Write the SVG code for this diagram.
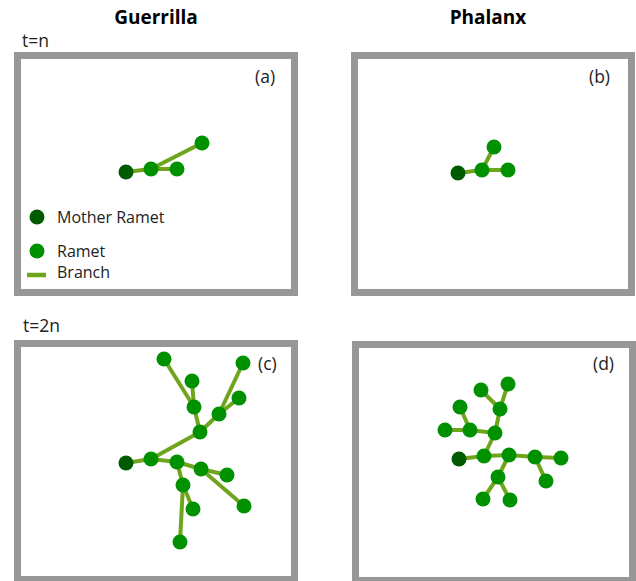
<svg xmlns="http://www.w3.org/2000/svg" width="636" height="581" viewBox="0 0 636 581">
<style>
.frame{fill:#fff;stroke:#979797;stroke-width:7}
.br{stroke:#6ea51c;stroke-width:4;stroke-linecap:butt}
.m{fill:#005a00}
.r{fill:#009100}
.t{font-family:"Open Sans","DejaVu Sans",sans-serif;fill:#222}
.h{font-family:"Open Sans","DejaVu Sans",sans-serif;font-weight:bold;font-size:19px;fill:#000;text-anchor:middle}
.lab{font-size:17.5px}
.leg{font-size:16px}
</style>
<rect width="636" height="581" fill="#fff"/>
<g id="headers">
<text class="h" x="156" y="24">Guerrilla</text>
<text class="h" x="488" y="24">Phalanx</text>
<text class="t lab" x="22" y="47">t=n</text>
<text class="t lab" x="23" y="332">t=2n</text>
</g>
<g id="panel-a">
<rect class="frame" x="17.5" y="55.5" width="277" height="237"/>
<text class="t lab" x="255" y="83">(a)</text>
<g id="conn-a">
<line class="br" x1="126" y1="172" x2="151" y2="169"/>
<line class="br" x1="151" y1="169" x2="177" y2="169"/>
<line class="br" x1="151" y1="169" x2="202" y2="143"/>
</g>
<circle class="m" cx="126" cy="172" r="7.5"/>
<circle class="r" cx="151" cy="169" r="7.5"/>
<circle class="r" cx="177" cy="169" r="7.5"/>
<circle class="r" cx="202" cy="143" r="7.5"/>
</g>
<g id="legend">
<circle class="m" cx="37" cy="217" r="7.5"/>
<text class="t leg" x="57" y="223">Mother Ramet</text>
<circle class="r" cx="37" cy="251" r="7.5"/>
<text class="t leg" x="57" y="257">Ramet</text>
<line class="br" x1="27" y1="275" x2="46" y2="275" style="stroke-width:4.5"/>
<text class="t leg" x="57" y="278">Branch</text>
</g>
<g id="panel-b">
<rect class="frame" x="354.5" y="55.5" width="277" height="237"/>
<text class="t lab" x="589" y="83">(b)</text>
<g id="conn-b">
<line class="br" x1="458" y1="173" x2="482" y2="170"/>
<line class="br" x1="482" y1="170" x2="508" y2="170"/>
<line class="br" x1="482" y1="170" x2="494" y2="147"/>
</g>
<circle class="m" cx="458" cy="173" r="7.5"/>
<circle class="r" cx="482" cy="170" r="7.5"/>
<circle class="r" cx="508" cy="170" r="7.5"/>
<circle class="r" cx="494" cy="147" r="7.5"/>
</g>
<g id="panel-c">
<rect class="frame" x="17.5" y="343.5" width="277" height="236"/>
<text class="t lab" x="258" y="370">(c)</text>
<g id="conn-c">
<line class="br" x1="126" y1="463" x2="151" y2="459"/>
<line class="br" x1="151" y1="459" x2="177" y2="462"/>
<line class="br" x1="177" y1="462" x2="201" y2="469"/>
<line class="br" x1="201" y1="469" x2="227" y2="475"/>
<line class="br" x1="201" y1="469" x2="244" y2="506"/>
<line class="br" x1="177" y1="462" x2="183" y2="485"/>
<line class="br" x1="183" y1="485" x2="193" y2="509"/>
<line class="br" x1="183" y1="485" x2="180" y2="542"/>
<line class="br" x1="151" y1="459" x2="200" y2="432"/>
<line class="br" x1="200" y1="432" x2="219" y2="414"/>
<line class="br" x1="219" y1="414" x2="239" y2="398"/>
<line class="br" x1="219" y1="414" x2="243" y2="363"/>
<line class="br" x1="200" y1="432" x2="194" y2="407"/>
<line class="br" x1="194" y1="407" x2="192" y2="381"/>
<line class="br" x1="194" y1="407" x2="164" y2="359"/>
</g>
<circle class="m" cx="126" cy="463" r="7.5"/>
<circle class="r" cx="151" cy="459" r="7.5"/>
<circle class="r" cx="177" cy="462" r="7.5"/>
<circle class="r" cx="201" cy="469" r="7.5"/>
<circle class="r" cx="227" cy="475" r="7.5"/>
<circle class="r" cx="244" cy="506" r="7.5"/>
<circle class="r" cx="183" cy="485" r="7.5"/>
<circle class="r" cx="193" cy="509" r="7.5"/>
<circle class="r" cx="180" cy="542" r="7.5"/>
<circle class="r" cx="200" cy="432" r="7.5"/>
<circle class="r" cx="219" cy="414" r="7.5"/>
<circle class="r" cx="239" cy="398" r="7.5"/>
<circle class="r" cx="243" cy="363" r="7.5"/>
<circle class="r" cx="194" cy="407" r="7.5"/>
<circle class="r" cx="192" cy="381" r="7.5"/>
<circle class="r" cx="164" cy="359" r="7.5"/>
</g>
<g id="panel-d">
<rect class="frame" x="355.5" y="344.5" width="277" height="236"/>
<text class="t lab" x="593" y="370">(d)</text>
<g id="conn-d">
<line class="br" x1="459" y1="459" x2="484" y2="456"/>
<line class="br" x1="484" y1="456" x2="509" y2="455"/>
<line class="br" x1="509" y1="455" x2="535" y2="457"/>
<line class="br" x1="535" y1="457" x2="561" y2="458"/>
<line class="br" x1="535" y1="457" x2="546" y2="481"/>
<line class="br" x1="509" y1="455" x2="498" y2="477"/>
<line class="br" x1="498" y1="477" x2="483" y2="499"/>
<line class="br" x1="498" y1="477" x2="510" y2="500"/>
<line class="br" x1="484" y1="456" x2="495" y2="433"/>
<line class="br" x1="495" y1="433" x2="470" y2="430"/>
<line class="br" x1="470" y1="430" x2="445" y2="430"/>
<line class="br" x1="470" y1="430" x2="460" y2="407"/>
<line class="br" x1="495" y1="433" x2="500" y2="409"/>
<line class="br" x1="500" y1="409" x2="481" y2="390"/>
<line class="br" x1="500" y1="409" x2="508" y2="384"/>
</g>
<circle class="m" cx="459" cy="459" r="7.5"/>
<circle class="r" cx="484" cy="456" r="7.5"/>
<circle class="r" cx="509" cy="455" r="7.5"/>
<circle class="r" cx="535" cy="457" r="7.5"/>
<circle class="r" cx="561" cy="458" r="7.5"/>
<circle class="r" cx="546" cy="481" r="7.5"/>
<circle class="r" cx="498" cy="477" r="7.5"/>
<circle class="r" cx="483" cy="499" r="7.5"/>
<circle class="r" cx="510" cy="500" r="7.5"/>
<circle class="r" cx="495" cy="433" r="7.5"/>
<circle class="r" cx="470" cy="430" r="7.5"/>
<circle class="r" cx="445" cy="430" r="7.5"/>
<circle class="r" cx="460" cy="407" r="7.5"/>
<circle class="r" cx="500" cy="409" r="7.5"/>
<circle class="r" cx="481" cy="390" r="7.5"/>
<circle class="r" cx="508" cy="384" r="7.5"/>
</g>
</svg>
